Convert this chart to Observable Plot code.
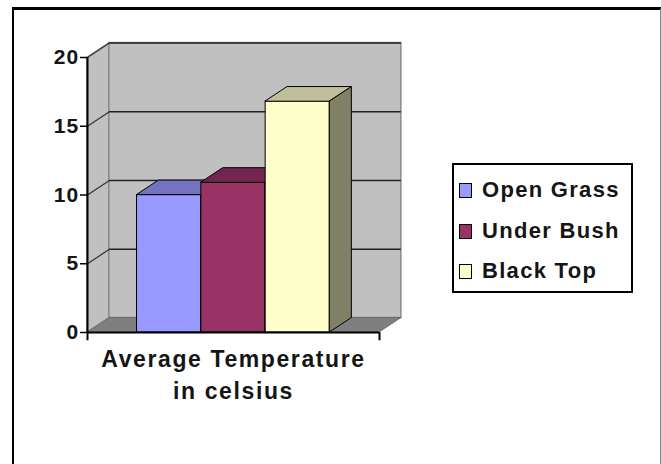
<!DOCTYPE html>
<html>
<head>
<meta charset="utf-8">
<script src="https://cdn.jsdelivr.net/npm/d3@7"></script>
<script src="https://cdn.jsdelivr.net/npm/@observablehq/plot@0.6"></script>
<style>
  html, body { margin: 0; padding: 0; background: #fff; overflow: hidden; }
  #wrap { position: relative; width: 661px; height: 464px; font-family: "Liberation Sans", Arial, sans-serif; }
  #border { position: absolute; left: 12px; top: 7px; width: 649px; height: 470px; box-sizing: border-box;
            border-top: 3px solid #000; border-left: 2px solid #000; border-right: 1px solid #888; pointer-events: none; }
  #chart { position: absolute; left: 0; top: 0; }
  #chart svg text { letter-spacing: 1.2px; }
  #legend { position: absolute; left: 452px; top: 163px; width: 181px; height: 130px; box-sizing: border-box;
            border: 2px solid #000; background: #fff; }
  .item { position: absolute; left: 5px; height: 20px; display: flex; align-items: center; }
  .sw { width: 11px; height: 13px; border: 1px solid #000; margin-right: 10px; flex: none; }
  .lab { font-size: 22px; font-weight: bold; letter-spacing: 1.3px; color: #151515; white-space: nowrap; }
</style>
</head>
<body>
<div id="wrap">
  <div id="chart"></div>
  <div id="legend"></div>
  <div id="border"></div>
</div>
<script>
// ---- data ----
const categories = ["Open Grass", "Under Bush", "Black Top"];
const values = [10, 10.9, 16.8];
const frontColors = ["#9999FF", "#993366", "#FFFFCC"];
const topColors = ["#7373BF", "#73264D", "#BFBF99"];
const sideColors = ["#4D4D80", "#4D1933", "#808066"];
const yTicks = [0, 5, 10, 15, 20];
const gridTicks = [5, 10, 15, 20];
const xLabel = "Average Temperature\nin celsius";

// ---- 3D geometry (in scale units) ----
const X0 = -0.77, X1 = 3.77;  // floor extent along x
const DX = 0.34, DY = 1.05;   // depth offset

const bars = categories.map((c, i) => ({cat: c, i, v: values[i]}));

const barMarks = bars.flatMap(b => [
  Plot.rect([b], {x1: d => d.i, x2: d => d.i + 1, y1: () => 0, y2: d => d.v,
    fill: frontColors[b.i], stroke: "#000", strokeWidth: 1}),
  Plot.areaX([{y: b.v, x1: b.i, x2: b.i + 1}, {y: b.v + DY, x1: b.i + DX, x2: b.i + 1 + DX}],
    {y: "y", x1: "x1", x2: "x2", fill: topColors[b.i], stroke: "#000", strokeWidth: 1}),
  Plot.areaY([{x: b.i + 1, y1: 0, y2: b.v}, {x: b.i + 1 + DX, y1: DY, y2: b.v + DY}],
    {x: "x", y1: "y1", y2: "y2", fill: sideColors[b.i], stroke: "#000", strokeWidth: 1})
]);

const chart = Plot.plot({
  width: 661,
  height: 464,
  marginLeft: 87,
  marginRight: 282,
  marginTop: 57,
  marginBottom: 132,
  x: {type: "linear", domain: [X0, X1], axis: null},
  y: {type: "linear", domain: [0, 20], axis: null},
  style: {fontFamily: "'Liberation Sans', Arial, sans-serif", background: "transparent"},
  marks: [
    // side wall
    Plot.areaY([{x: X0, y1: 0, y2: 20}, {x: X0 + DX, y1: DY, y2: 20 + DY}],
      {x: "x", y1: "y1", y2: "y2", fill: "#c0c0c0", stroke: "#8a8a8a", strokeWidth: 1}),
    // back wall
    Plot.rect([0], {x1: () => X0 + DX, x2: () => X1 + DX, y1: () => DY, y2: () => 20 + DY,
      fill: "#c0c0c0", stroke: "#8a8a8a", strokeWidth: 1.5}),
    // floor
    Plot.areaX([{y: 0, x1: X0, x2: X1}, {y: DY, x1: X0 + DX, x2: X1 + DX}],
      {y: "y", x1: "x1", x2: "x2", fill: "#7f7f7f", stroke: "#6a6a6a", strokeWidth: 1}),
    // gridlines
    Plot.ruleY(gridTicks, {y: d => d + DY, x1: () => X0 + DX, x2: () => X1 + DX, stroke: "#222", strokeWidth: 1.5}),
    Plot.link(gridTicks, {x1: () => X0, y1: d => d, x2: () => X0 + DX, y2: d => d + DY, stroke: "#333", strokeWidth: 1.2}),
    // bars
    ...barMarks,
    // axes
    Plot.ruleX([X0], {y1: () => -0.6, y2: () => 20, stroke: "#000", strokeWidth: 2}),
    Plot.ruleY([0], {x1: () => X0, x2: () => X1, stroke: "#000", strokeWidth: 2}),
    Plot.ruleX([X1], {y1: () => -0.6, y2: () => 0, stroke: "#000", strokeWidth: 2}),
    Plot.axisY({ticks: yTicks, tickSize: 7, tickPadding: 1, fontSize: 21, fontWeight: "bold",
      stroke: "#000", strokeWidth: 1.5, fill: "#151515"}),
    // category axis label
    Plot.text([xLabel], {x: () => (X0 + X1) / 2, y: () => 0, text: d => d, lineAnchor: "top",
      dy: 11, lineHeight: 1.42, fontSize: 23, fontWeight: "bold", fill: "#151515", textAnchor: "middle"})
  ]
});
document.getElementById("chart").appendChild(chart);
chart.querySelectorAll("text").forEach(t => {
  if (t.closest("g") && t.closest("g").getAttribute("aria-label") === "text") t.style.letterSpacing = "1.6px";
});

// ---- legend ----
const legend = document.getElementById("legend");
const rowCenters = [25, 66, 106];
categories.forEach((c, i) => {
  const it = document.createElement("div");
  it.className = "item";
  it.style.top = (rowCenters[i] - 10) + "px";
  const sw = document.createElement("span");
  sw.className = "sw";
  sw.style.background = frontColors[i];
  const lab = document.createElement("span");
  lab.className = "lab";
  lab.textContent = c;
  it.appendChild(sw);
  it.appendChild(lab);
  legend.appendChild(it);
});
</script>
</body>
</html>
